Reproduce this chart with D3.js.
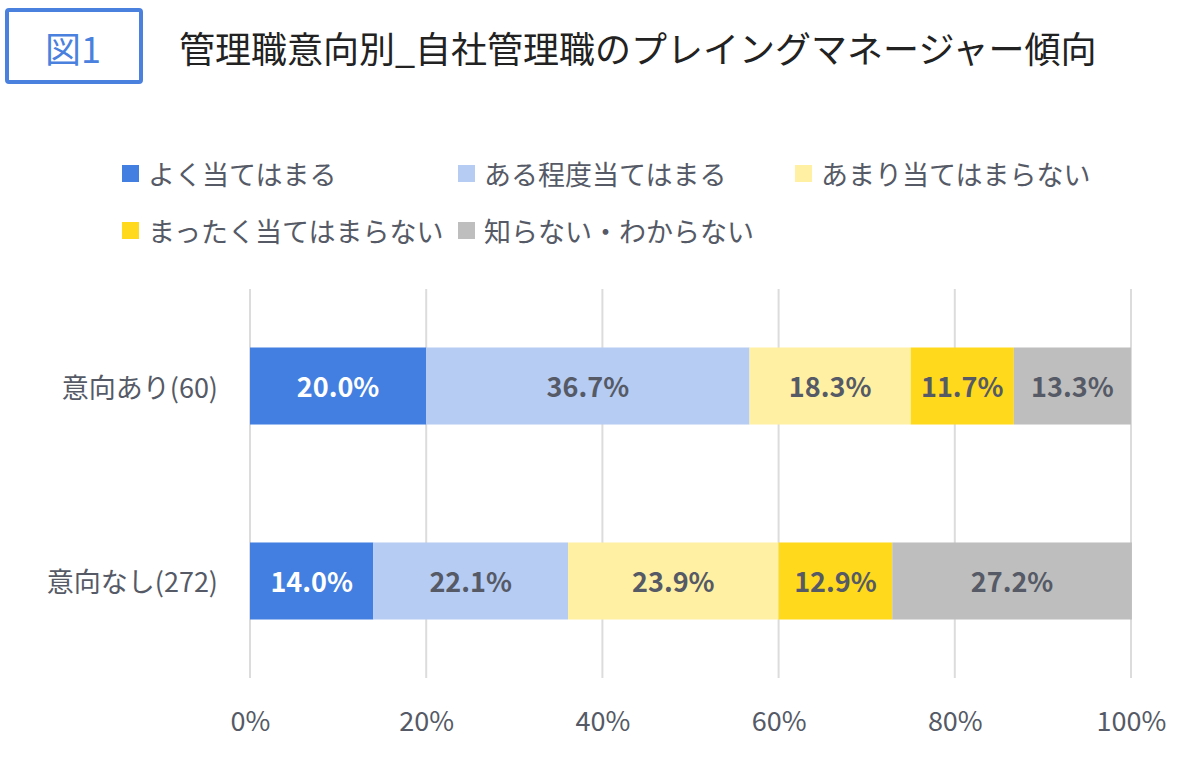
<!DOCTYPE html>
<html>
<head>
<meta charset="utf-8">
<script src="https://cdn.jsdelivr.net/npm/d3@7"></script>
<style>
  body { margin: 0; background: #fff; }
  svg { display: block; font-family: "Noto Sans CJK JP", "Noto Sans", sans-serif; }
</style>
</head>
<body>
<svg id="chart" width="1200" height="758"></svg>
<script>
// data
const categories = ["意向あり(60)", "意向なし(272)"];
const seriesNames = ["よく当てはまる", "ある程度当てはまる", "あまり当てはまらない", "まったく当てはまらない", "知らない・わからない"];
const seriesColors = ["#437fe0", "#b6ccf3", "#fff0a3", "#ffd91c", "#bebebe"];
const labelColors = ["#ffffff", "#555a66", "#555a66", "#555a66", "#555a66"];
const valuesAri = [20.0, 36.7, 18.3, 11.7, 13.3];
const valuesNashi = [14.0, 22.1, 23.9, 12.9, 27.2];
const xTicks = [0, 20, 40, 60, 80, 100];

const rows = [valuesAri, valuesNashi].map((vals, i) => {
    let acc = 0;
    return {
        cat: categories[i],
        segs: vals.map((v, j) => { const s = { v, j, x0: acc, x1: acc + v }; acc += v; return s; })
    };
});

const svg = d3.select("#chart");
const textColor = "#555a66";

// title box + title
svg.append("rect").attr("x", 7).attr("y", 10).attr("width", 134).attr("height", 72)
    .attr("fill", "#fff").attr("stroke", "#4a80de").attr("stroke-width", 4).attr("rx", 2);
svg.append("text").attr("x", 73).attr("y", 47).attr("text-anchor", "middle").attr("dominant-baseline", "central")
    .attr("font-size", 36).attr("fill", "#4a80de").text("図1");
svg.append("text").attr("x", 179).attr("y", 47).attr("dominant-baseline", "central")
    .attr("font-size", 36).attr("fill", "#222").text("管理職意向別_自社管理職のプレイングマネージャー傾向");

// legend
const legendPos = [[122, 173], [458, 173], [795, 173], [122, 230], [458, 230]];
const legend = svg.append("g");
seriesNames.forEach((name, i) => {
    const [lx, ly] = legendPos[i];
    legend.append("rect").attr("x", lx).attr("y", ly - 8).attr("width", 17).attr("height", 17).attr("fill", seriesColors[i]);
    legend.append("text").attr("x", lx + 26).attr("y", ly).attr("dominant-baseline", "central")
        .attr("font-size", 27).attr("fill", textColor).text(name);
});

// scales
const x = d3.scaleLinear().domain([0, 100]).range([250, 1131]);
const y = d3.scaleBand().domain(categories).range([289, 678]).paddingInner(0.605).paddingOuter(0.3);

// gridlines
svg.append("g").selectAll("line").data(xTicks).enter().append("line")
    .attr("x1", d => x(d)).attr("x2", d => x(d))
    .attr("y1", 289).attr("y2", 678)
    .attr("stroke", "#dcdcdc").attr("stroke-width", 2);

// x axis labels
svg.append("g").attr("transform", "translate(0,722)")
    .call(d3.axisBottom(x).tickValues(xTicks).tickFormat(d => d + "%").tickSize(0))
    .call(g => g.select(".domain").remove())
    .selectAll("text").attr("font-size", 27).attr("fill", textColor).attr("dy", "0.35em").attr("y", 0)
    .style("font-family", "\"Noto Sans CJK JP\", sans-serif");

// category labels
svg.append("g").selectAll("text").data(categories).enter().append("text")
    .attr("x", 218).attr("y", d => y(d) + y.bandwidth() / 2)
    .attr("text-anchor", "end").attr("dominant-baseline", "central")
    .attr("font-size", 27).attr("fill", textColor).text(d => d);

// bars
const rowG = svg.append("g").selectAll("g").data(rows).enter().append("g")
    .attr("transform", d => `translate(0,${y(d.cat)})`);
rowG.selectAll("rect").data(d => d.segs).enter().append("rect")
    .attr("x", d => x(d.x0)).attr("width", d => x(d.x1) - x(d.x0))
    .attr("y", 0).attr("height", y.bandwidth())
    .attr("fill", d => seriesColors[d.j]);
rowG.selectAll("text").data(d => d.segs).enter().append("text")
    .attr("x", d => (x(d.x0) + x(d.x1)) / 2).attr("y", y.bandwidth() / 2)
    .attr("text-anchor", "middle").attr("dominant-baseline", "central")
    .attr("font-size", 27).attr("font-weight", "bold")
    .attr("fill", d => labelColors[d.j]).text(d => d.v.toFixed(1) + "%");
</script>
</body>
</html>
